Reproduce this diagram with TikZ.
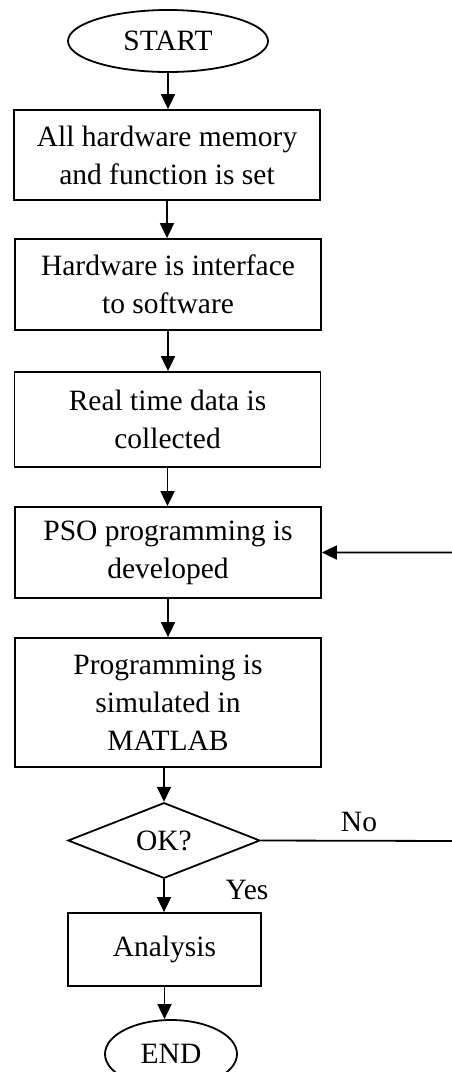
\documentclass[tikz,border=0pt]{standalone}
\usepackage{fontspec}
\setmainfont{Liberation Serif}
\usetikzlibrary{shapes.geometric,arrows.meta}
\begin{document}
\begin{tikzpicture}[x=1pt,y=-1pt,
  font=\fontsize{29.5}{38}\selectfont,
  box/.style={draw, line width=1.8pt, rectangle, minimum width=306pt, align=center, inner sep=0pt},
  term/.style={draw, line width=1.8pt, ellipse, inner sep=0pt},
  dec/.style={draw, line width=1.8pt, diamond, inner sep=0pt, minimum width=192pt, minimum height=71pt},
  arr/.style={line width=1.8pt, -{Triangle[length=15pt,width=14pt]}},
  lbl/.style={inner sep=0pt}]
\useasboundingbox (0,0) rectangle (451,1072);
\node[term, minimum width=200pt, minimum height=62pt] (start) at (168,41) {START};
\node[box, minimum height=90pt] (b1) at (167,155) {All hardware memory\\and function is set};
\node[box, minimum height=91pt] (b2) at (168,284.5) {Hardware is interface\\to software};
\node[box, minimum height=95pt] (b3) at (167.5,419.5) {Real time data is\\collected};
\node[box, minimum height=91pt] (b4) at (168,552.5) {PSO programming is\\developed};
\node[box, minimum height=129pt] (b5) at (168,702.5) {Programming is\\simulated in\\MATLAB};
\node[dec] (ok) at (164,840.5) {OK?};
\node[box, minimum width=193pt, minimum height=73pt] (an) at (164.5,949.5) {Analysis};
\node[term, minimum width=132pt, minimum height=68pt] (end) at (171,1054) {END};
\node[lbl] (no) at (359,822) {No};
\node[lbl] (yes) at (247,890) {Yes};
\coordinate (nr) at (460,841);
\draw[arr] (start.south) -- (start.south |- b1.north);
\draw[arr] (b1.south) -- (b1.south |- b2.north);
\draw[arr] (b2.south) -- (b2.south |- b3.north);
\draw[arr] (b3.south) -- (b3.south |- b4.north);
\draw[arr] (b4.south) -- (b4.south |- b5.north);
\draw[arr] (b5.south -| ok.north) -- (ok.north);
\draw[arr] (ok.south) -- (ok.south |- an.north);
\draw[arr] (an.south) -- (an.south |- end.north);
\draw[arr] (ok.east) -- (nr) |- (b4.east);
\end{tikzpicture}
\end{document}
